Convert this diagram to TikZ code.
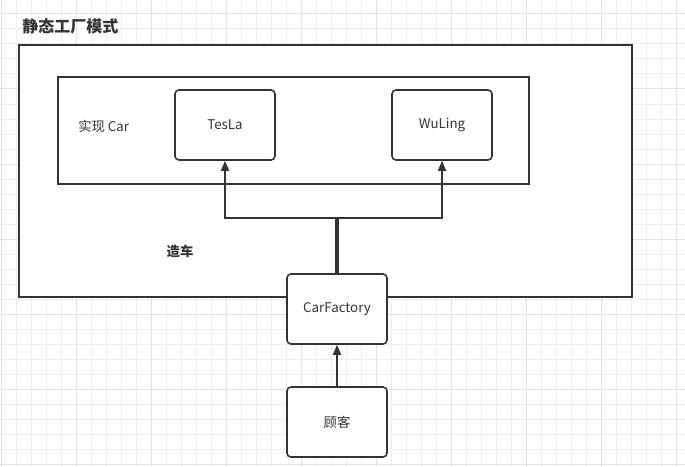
\documentclass[tikz,border=0pt]{standalone}
\usepackage{fontspec}
\setmainfont{Noto Sans CJK SC}
\usetikzlibrary{arrows.meta}

\definecolor{ink}{HTML}{333333}
\definecolor{gridminor}{HTML}{EEEEEE}
\definecolor{gridmajor}{HTML}{E2E2E2}

\tikzset{
  cls/.style={draw=ink, line width=1.2pt, rounded corners=3pt, fill=white,
    minimum width=75pt, minimum height=52.5pt, inner sep=0pt,
    font=\fontsize{10}{12}\selectfont, text=ink},
  lbl/.style={text=ink, inner sep=0pt},
  arr/.style={draw=ink, line width=1.2pt, -{Triangle[length=7.5pt,width=6pt]}}
}

\begin{document}
\begin{tikzpicture}[x=0.75pt, y=-0.75pt]
  \useasboundingbox (0,0) rectangle (685,467);
  % background grid
  \foreach \gx in {1.5,16.5,...,685} \draw[gridminor, line width=0.75pt] (\gx,0) -- (\gx,467);
  \foreach \gy in {14,29,...,467} \draw[gridminor, line width=0.75pt] (0,\gy) -- (685,\gy);
  \foreach \gx in {1.5,76.5,...,685} \draw[gridmajor, line width=0.75pt] (\gx,0) -- (\gx,467);
  \foreach \gy in {14,89,...,467} \draw[gridmajor, line width=0.75pt] (0,\gy) -- (685,\gy);

  \node[lbl, anchor=west, font=\bfseries\fontsize{12}{14}\selectfont] (title) at (22,26) {静态工厂模式};
  \draw[ink, line width=1.5pt, fill=white] (19,45) rectangle (632,297);
  \draw[ink, line width=1.2pt] (58,77) rectangle (529,184);
  \node[lbl, anchor=west, font=\fontsize{10}{12}\selectfont] (impl) at (78,126) {实现 Car};
  \node[lbl, font=\bfseries\fontsize{10}{12}\selectfont] (make) at (180,251) {造车};

  \node[cls] (tesla) at (225,125) {TesLa};
  \node[cls] (wuling) at (442,125) {WuLing};
  \node[cls] (factory) at (337,309) {CarFactory};
  \node[cls] (client) at (337,422) {顾客};

  \coordinate (split) at (337,218);
  \draw[ink, line width=2.6pt] (factory.north) -- (split);
  \draw[arr] (split) -| (tesla.south);
  \draw[arr] (split) -| (wuling.south);
  \draw[arr] (client.north) -- (factory.south);
\end{tikzpicture}
\end{document}
